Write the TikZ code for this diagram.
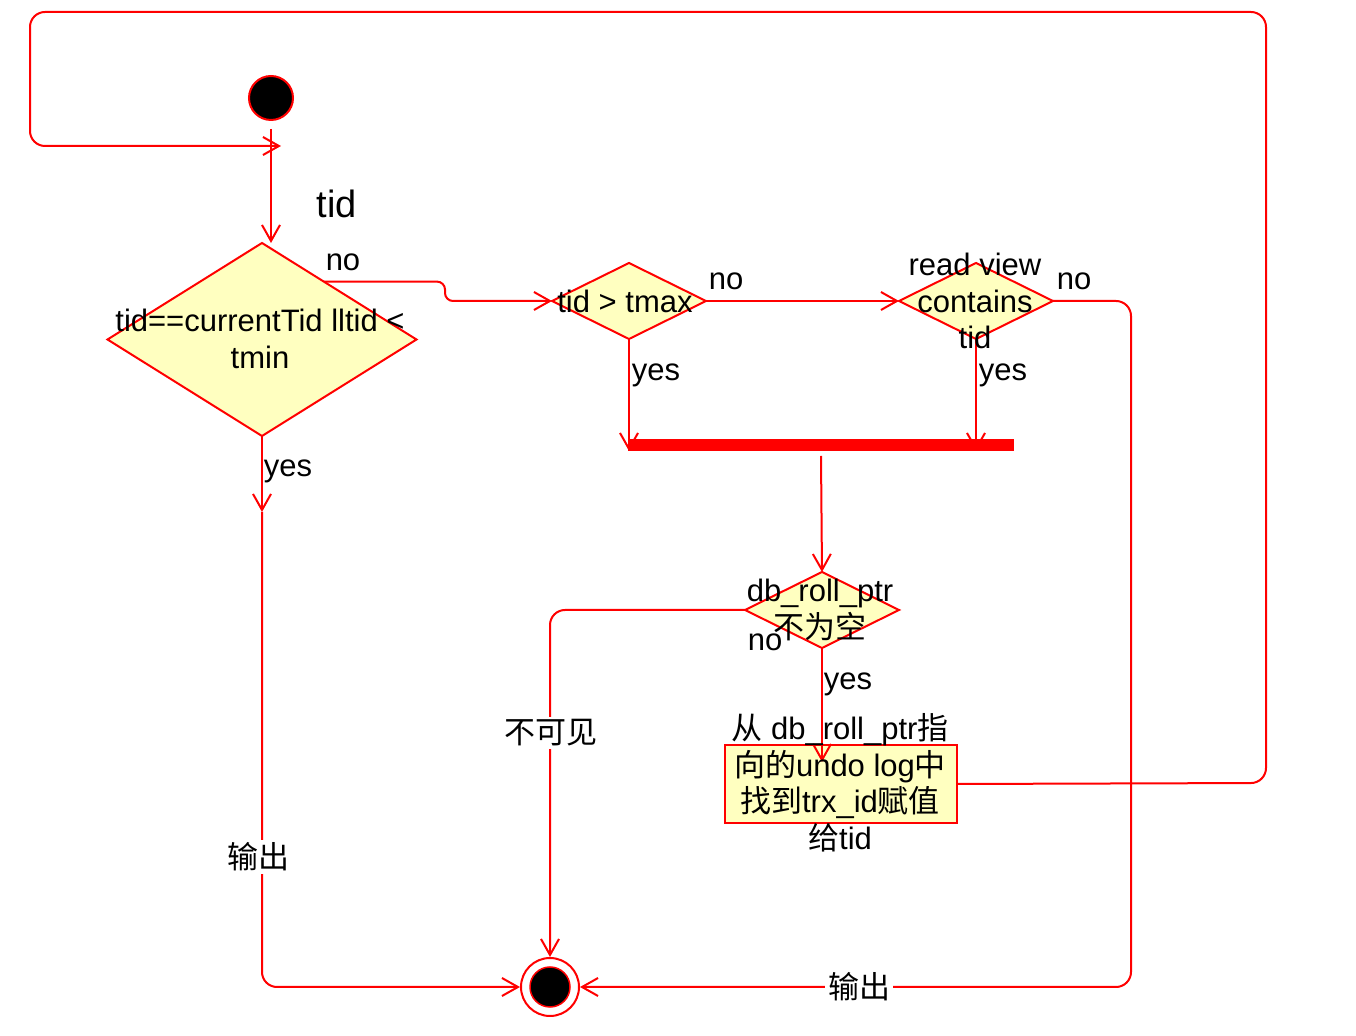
\documentclass[tikz,border=0pt]{standalone}
\usepackage{fontspec}
\setmainfont{Liberation Sans}
\newfontfamily\cjk{Noto Sans CJK SC}
\usetikzlibrary{arrows.meta,shapes.geometric,calc}
\definecolor{ured}{HTML}{FF0000}
\definecolor{uyel}{HTML}{FFFFC0}
\begin{document}
\begin{tikzpicture}[x=0.5pt,y=-0.5pt,
  line/.style={draw=ured, line width=1pt},
  arr/.style={line, -{Straight Barb[length=8pt,width=9pt]}},
  dia/.style={diamond, draw=ured, fill=uyel, line width=1pt, inner sep=0pt, outer sep=0pt},
  txt/.style={font=\fontsize{15.5}{18.25}\selectfont, align=center, inner sep=0pt, text=black},
  lbl/.style={font=\fontsize{15.5}{18.25}\selectfont, inner sep=1pt, text=black},
  wlbl/.style={lbl, fill=white, inner sep=1.5pt},
  ]
\useasboundingbox (0,0) rectangle (1356,1036);

% shapes
\node[circle, fill=black, draw=ured, line width=1pt, minimum size=22pt, inner sep=0pt] (start) at (271,98) {};
\node[dia, minimum width=154.5pt, minimum height=96.5pt] (d1) at (262,339.5) {};
\node[dia, minimum width=77pt, minimum height=38pt] (d2) at (629,301) {};
\node[dia, minimum width=77pt, minimum height=38pt] (d3) at (976,301) {};
\node[dia, minimum width=77pt, minimum height=38pt] (d4) at (822,610) {};
\node[rectangle, draw=ured, fill=uyel, line width=1pt, minimum width=116pt, minimum height=39pt, inner sep=0pt, outer sep=0pt] (box) at (841,784) {};
\node[rectangle, fill=ured, minimum width=193pt, minimum height=6pt, inner sep=0pt, outer sep=0pt] (bar) at (821,445) {};
\node[circle, draw=ured, fill=white, line width=1pt, minimum size=29pt, inner sep=0pt] (end) at (550,987) {};
\node[circle, fill=black, draw=ured, line width=0.75pt, minimum size=20pt, inner sep=0pt] (endin) at (550,987) {};

% connectors
\coordinate (loopin) at (281,146);
\draw[arr, rounded corners=7.5pt] (box.east) -- (1266,783) -- (1266,12) -- (30,12) -- (30,146) -- (loopin);
\draw[arr] ([yshift=-4pt]start.south) -- (start.south |- d1.north);
\coordinate (d1ne) at ($(d1.north)!0.4!(d1.east)$);
\draw[arr, rounded corners=4pt] (d1ne) -| ($(d2.west)+(-107,0)$) -- (d2.west);
\draw[arr] (d2.east) -- (d3.west);
\draw[arr] (d2.south) -- (d2.south |- bar.south);
\draw[arr] (d3.south) -- (d3.south |- bar.south);
\draw[arr] ([yshift=-2.5pt]bar.south) -- (d4.north);
\draw[arr, rounded corners=7.5pt] (d4.west) -| (end.north);
\coordinate (boxin) at (822,762);
\draw[arr] (d4.south) -- (boxin);
\coordinate (ymid) at (262,512);
\draw[arr] (d1.south) -- (ymid);
\draw[arr, rounded corners=7.5pt] (ymid) |- (end.west);
\draw[arr, rounded corners=7.5pt] (d3.east) -- (1131,301) -- (1131,987) -- (end.east);

% texts
\node[txt] (t1) at (260,339) {tid==currentTid lltid <\\tmin};
\node[txt] (t2) at (625,301) {tid > tmax};
\node[txt] (t3) at (975,301) {read view\\contains\\tid};
\node[txt] (t4) at (820,610) {db\_roll\_ptr\\{\cjk 不为空}};
\node[txt] (t5) at (840,783) {{\cjk 从} db\_roll\_ptr{\cjk 指}\\{\cjk 向的}undo log{\cjk 中}\\{\cjk 找到}trx\_id{\cjk 赋值}\\{\cjk 给}tid};

\node[lbl, font=\fontsize{19}{22}\selectfont] (ltid) at (337,204) {tid};
\node[lbl] (lno1) at (343,262) {no};
\node[lbl] (lno2) at (726,281) {no};
\node[lbl] (lno3) at (1074,281) {no};
\node[lbl] (lyes1) at (656,375) {yes};
\node[lbl] (lyes2) at (1003,375) {yes};
\node[lbl] (lyes3) at (288,471) {yes};
\node[lbl] (lno4) at (765,642) {no};
\node[lbl] (lyes4) at (848,684) {yes};
\node[wlbl] (lbkj) at (551,733) {\cjk 不可见};
\node[wlbl] (lout1) at (258,857) {\cjk 输出};
\node[wlbl] (lout2) at (859,987) {\cjk 输出};
\end{tikzpicture}
\end{document}
